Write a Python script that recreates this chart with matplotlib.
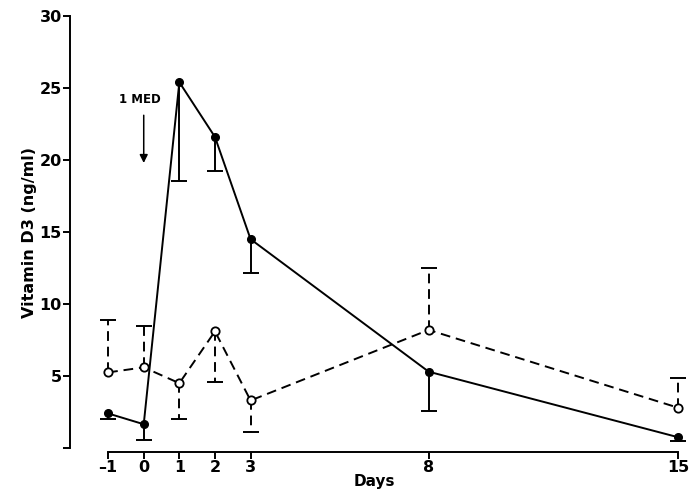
import numpy as np
import matplotlib
matplotlib.use('Agg')
import matplotlib.pyplot as plt

plt.rcParams['font.family'] = ['DejaVu Sans']

days = [-1, 0, 1, 2, 3, 8, 15]
xticks = [-1, 0, 1, 2, 3, 8, 15]

# filled circles, solid line (error bars below)
solid_mean = [2.4, 1.65, 25.4, 21.6, 14.5, 5.3, 0.75]
solid_low = [2.0, 0.55, 18.55, 19.25, 12.15, 2.55, 0.5]

# open circles, dashed line (one-sided bar end)
open_mean = [5.25, 5.6, 4.5, 8.1, 3.3, 8.2, 2.8]
open_bound = [8.9, 8.5, 2.0, 4.6, 1.1, 12.5, 4.85]

fig = plt.figure(figsize=(6.96, 4.91), dpi=100)
ax = fig.add_axes([70 / 696, (491 - 448) / 491, (678 - 70) / 696, (448 - 16) / 491])

dash = (0, (5, 3))
lw = 1.4

# one-sided error bars: stem + cap at the far end only
ax.vlines(days, solid_mean, solid_low, color='black', lw=lw, zorder=2, clip_on=False)
ax.plot(days, solid_low, ls='none', marker='_', ms=11, mew=lw, color='black',
        zorder=2, clip_on=False)
ax.vlines(days, open_mean, open_bound, color='black', lw=lw, linestyles=[dash],
          zorder=2, clip_on=False)
ax.plot(days, open_bound, ls='none', marker='_', ms=11, mew=lw, color='black',
        zorder=2, clip_on=False)

ax.plot(days, solid_mean, color='black', lw=lw, marker='o', ms=5.5,
        mfc='black', mec='black', zorder=4, clip_on=False)
ax.plot(days, open_mean, color='black', lw=lw, ls=dash, marker='o', ms=6,
        mfc='white', mec='black', mew=1.3, zorder=3, clip_on=False)

ax.annotate('', xy=(0, 19.6), xytext=(0, 23.3),
            arrowprops=dict(arrowstyle='-|>', color='black', lw=1.1, mutation_scale=12))
ax.text(-0.1, 24.2, '1 MED', ha='center', va='center', fontsize=8.5, fontweight='bold')

ax.set_xlim(-2.07, 15.0)
ax.set_ylim(0, 30)
for s in ['top', 'right']:
    ax.spines[s].set_visible(False)
ax.spines['bottom'].set_bounds(-1, 15)
ax.spines['bottom'].set_position(('outward', 3))
ax.spines['left'].set_bounds(0, 30)
for s in ['left', 'bottom']:
    ax.spines[s].set_linewidth(1.4)

ax.set_xticks(xticks)
ax.set_xticklabels(['\u20131', '0', '1', '2', '3', '8', '15'])
ax.set_yticks([0, 5, 10, 15, 20, 25, 30])
ax.set_yticklabels(['', '5', '10', '15', '20', '25', '30'])
ax.tick_params(axis='both', width=1.4, length=5, labelsize=11.5, pad=1)
for lab in ax.get_xticklabels() + ax.get_yticklabels():
    lab.set_fontweight('bold')

ax.set_xlabel('Days', fontsize=11, fontweight='bold', labelpad=-1)
ax.set_ylabel('Vitamin D3 (ng/ml)', fontsize=11.5, fontweight='bold', labelpad=2)

fig.savefig('out.png', dpi=100)
